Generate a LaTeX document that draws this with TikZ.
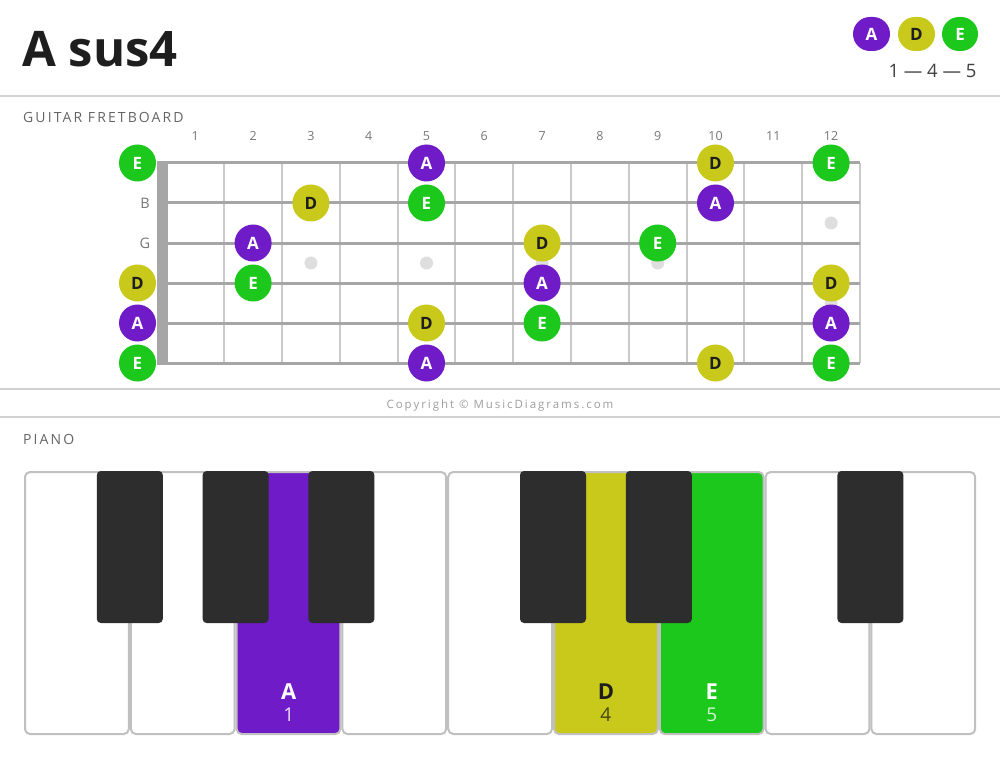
\documentclass[tikz,border=0pt]{standalone}
\usepackage{fontspec}
\setmainfont{Open Sans}
\definecolor{cA}{HTML}{6F1BC7}
\definecolor{cD}{HTML}{C9C91B}
\definecolor{cE}{HTML}{1BC81B}
\definecolor{ink}{HTML}{1E1E1E}
\definecolor{sepc}{HTML}{D2D2D2}
\definecolor{fretc}{HTML}{CACACA}
\definecolor{strc}{HTML}{A6A6A6}
\definecolor{dotc}{HTML}{DEDEDE}
\definecolor{lblc}{HTML}{777777}
\definecolor{blackkey}{HTML}{2D2D2D}
\definecolor{keyborder}{HTML}{C0C0C0}
\tikzset{
  sepline/.style={draw=sepc, line width=2pt},
  fretline/.style={draw=fretc, line width=2pt},
  strline/.style={draw=strc, line width=3pt},
  note/.style={circle, minimum size=37pt, inner sep=0pt, font=\fontsize{17}{19}\selectfont\bfseries},
  nA/.style={note, fill=cA, text=white},
  nD/.style={note, fill=cD, text=ink},
  nE/.style={note, fill=cE, text=white},
  legend/.style={rounded corners=17pt, minimum height=34pt, minimum width=37pt, inner xsep=12pt, inner ysep=0pt, font=\fontsize{17}{19}\selectfont\bfseries},
  section/.style={anchor=base west, inner sep=0pt, text=lblc!85!black, font=\fontsize{14}{16}\selectfont\addfontfeatures{LetterSpace=15}},
  fretnum/.style={inner sep=0pt, text=lblc, font=\fontsize{12.5}{14}\selectfont},
  wkey/.style={draw=keyborder, line width=2pt, rounded corners=5pt},
  bkey/.style={fill=blackkey, rounded corners=4pt},
}
\begin{document}
\begin{tikzpicture}[x=1pt,y=-1pt]
\fill[white] (0,0) rectangle (1000,759);
\useasboundingbox (0,0) rectangle (1000,759);

% header
\node[anchor=base west, inner sep=0pt, text=ink, font=\fontsize{49}{60}\selectfont\bfseries] (title) at (22,67) {A sus4};
\node[legend, fill=cA, text=white] (lA) at (871.5,34) {A};
\node[legend, fill=cD, text=ink] (lD) at (916.5,34) {D};
\node[legend, fill=cE, text=white, minimum width=36pt, inner xsep=10pt] (lE) at (960,34) {E};
\node[inner sep=0pt, text=ink!85, font=\fontsize{18.5}{22}\selectfont] (formula) at (932.5,71) {1 — 4 — 5};
\draw[sepline] (0,96) -- (1000,96);

% fretboard
\node[section] (gtitle) at (23,123) {GUITAR FRETBOARD};
\foreach \k in {1,...,12}{
  \draw[fretline] ({166.4+57.8*\k},163) -- ({166.4+57.8*\k},363);
  \node[fretnum] (fn\k) at ({137.5+57.8*\k},136) {\k};
}
\foreach \x/\y in {3/263,5/263,7/263,9/263,12/223,12/303}{
  \fill[dotc] ({137.5+57.8*\x},\y) circle (6.5pt);
}
\foreach \y in {163,203,243,283,323,363}{
  \draw[strline] (157,\y) -- (860,\y);
}
\fill[strc] (157,161.5) rectangle (167.5,364.5);
\node[fretnum, font=\fontsize{14.5}{16}\selectfont] (sB) at (145,203) {B};
\node[fretnum, font=\fontsize{14.5}{16}\selectfont] (sG) at (145,243) {G};
\foreach \y/\f/\n in {163/0/E,163/5/A,163/10/D,163/12/E,
                      203/3/D,203/5/E,203/10/A,
                      243/2/A,243/7/D,243/9/E,
                      283/0/D,283/2/E,283/7/A,283/12/D,
                      323/0/A,323/5/D,323/7/E,323/12/A,
                      363/0/E,363/5/A,363/10/D,363/12/E}{
  \node[n\n] (g-\y-\f) at ({137.5+57.8*\f},\y) {\n};
}
\draw[sepline] (0,389) -- (1000,389);
\node[inner sep=0pt, text=black!38, font=\fontsize{11.5}{13}\selectfont\addfontfeatures{LetterSpace=17}] (copy) at (500,406) {Copyright © MusicDiagrams.com};
\draw[sepline] (0,417) -- (1000,417);

% piano
\node[section] (ptitle) at (23,444) {PIANO};
\foreach \i/\c in {0/white,1/white,2/cA,3/white,4/white,5/cD,6/cE,7/white,8/white}{
  \draw[wkey, fill=\c] ({24+105.8*\i+1},472) rectangle ({24+105.8*(\i+1)-1},734);
}
\foreach \b in {1,2,3,5,6,8}{
  \fill[bkey] ({24+105.8*\b-33},471) rectangle ({24+105.8*\b+33},623);
}
\node[inner sep=0pt, text=white, font=\fontsize{22}{26}\selectfont\bfseries] (kA) at (288.7,691.5) {A};
\node[inner sep=0pt, text=white!85!cA, font=\fontsize{19}{22}\selectfont] (kA1) at (288.7,715) {1};
\node[inner sep=0pt, text=ink, font=\fontsize{22}{26}\selectfont\bfseries] (kD) at (605.9,691.5) {D};
\node[inner sep=0pt, text=black!65!cD, font=\fontsize{19}{22}\selectfont] (kD4) at (605.9,715) {4};
\node[inner sep=0pt, text=white, font=\fontsize{22}{26}\selectfont\bfseries] (kE) at (711.7,691.5) {E};
\node[inner sep=0pt, text=white!80!cE, font=\fontsize{19}{22}\selectfont] (kE5) at (711.7,715) {5};
\end{tikzpicture}
\end{document}
